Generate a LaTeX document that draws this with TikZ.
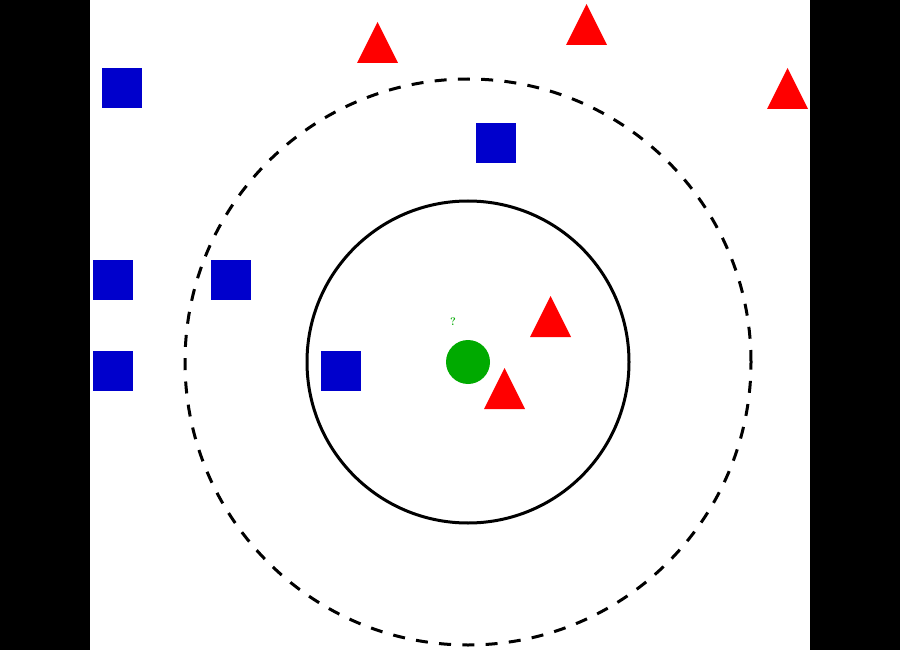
\documentclass[tikz,border=0pt]{standalone}
\begin{document}
\definecolor{sqblue}{RGB}{0,0,204}
\definecolor{trired}{RGB}{255,0,0}
\definecolor{ptgreen}{RGB}{0,170,0}
\begin{tikzpicture}[x=1pt,y=-1pt,
  sq/.style={fill=sqblue,draw=none,minimum size=40pt,inner sep=0pt,outer sep=0pt},
  tri/.pic={\fill[trired] (-20.5,0) -- (20.5,0) -- (0,-41) -- cycle;},
  ring/.style={draw=black,line width=3pt,fill=none},
  dashring/.style={draw=black,line width=3pt,dash pattern=on 12pt off 11.3pt,fill=none}]
\useasboundingbox (0,0) rectangle (900,650);
\fill[black] (0,0) rectangle (90,650);
\fill[black] (810,0) rectangle (900,650);
\fill[white] (90,0) rectangle (810,650);
% circles
\node[circle,ring,minimum size=322pt,inner sep=0pt] (inner) at (468,362) {};
\node[circle,dashring,minimum size=566pt,inner sep=0pt] (outer) at (468,362) {};
% squares
\node[sq] (s1) at (121.5,88.5) {};
\node[sq] (s2) at (112.5,280) {};
\node[sq] (s3) at (112.5,371) {};
\node[sq] (s4) at (231,280) {};
\node[sq] (s5) at (495.5,143.5) {};
\node[sq] (s6) at (340.5,371) {};
% triangles
\pic at (377.5,63) {tri};
\pic at (586.5,45) {tri};
\pic at (787.5,109) {tri};
\pic at (550.5,337) {tri};
\pic at (504.5,409) {tri};
% query point
\node[circle,fill=ptgreen,minimum size=44pt,inner sep=0pt] (q) at (468,362) {};
\node[text=ptgreen,font=\fontsize{11}{11}\selectfont\bfseries,inner sep=0pt] (ql) at (453,322) {?};
\end{tikzpicture}
\end{document}
